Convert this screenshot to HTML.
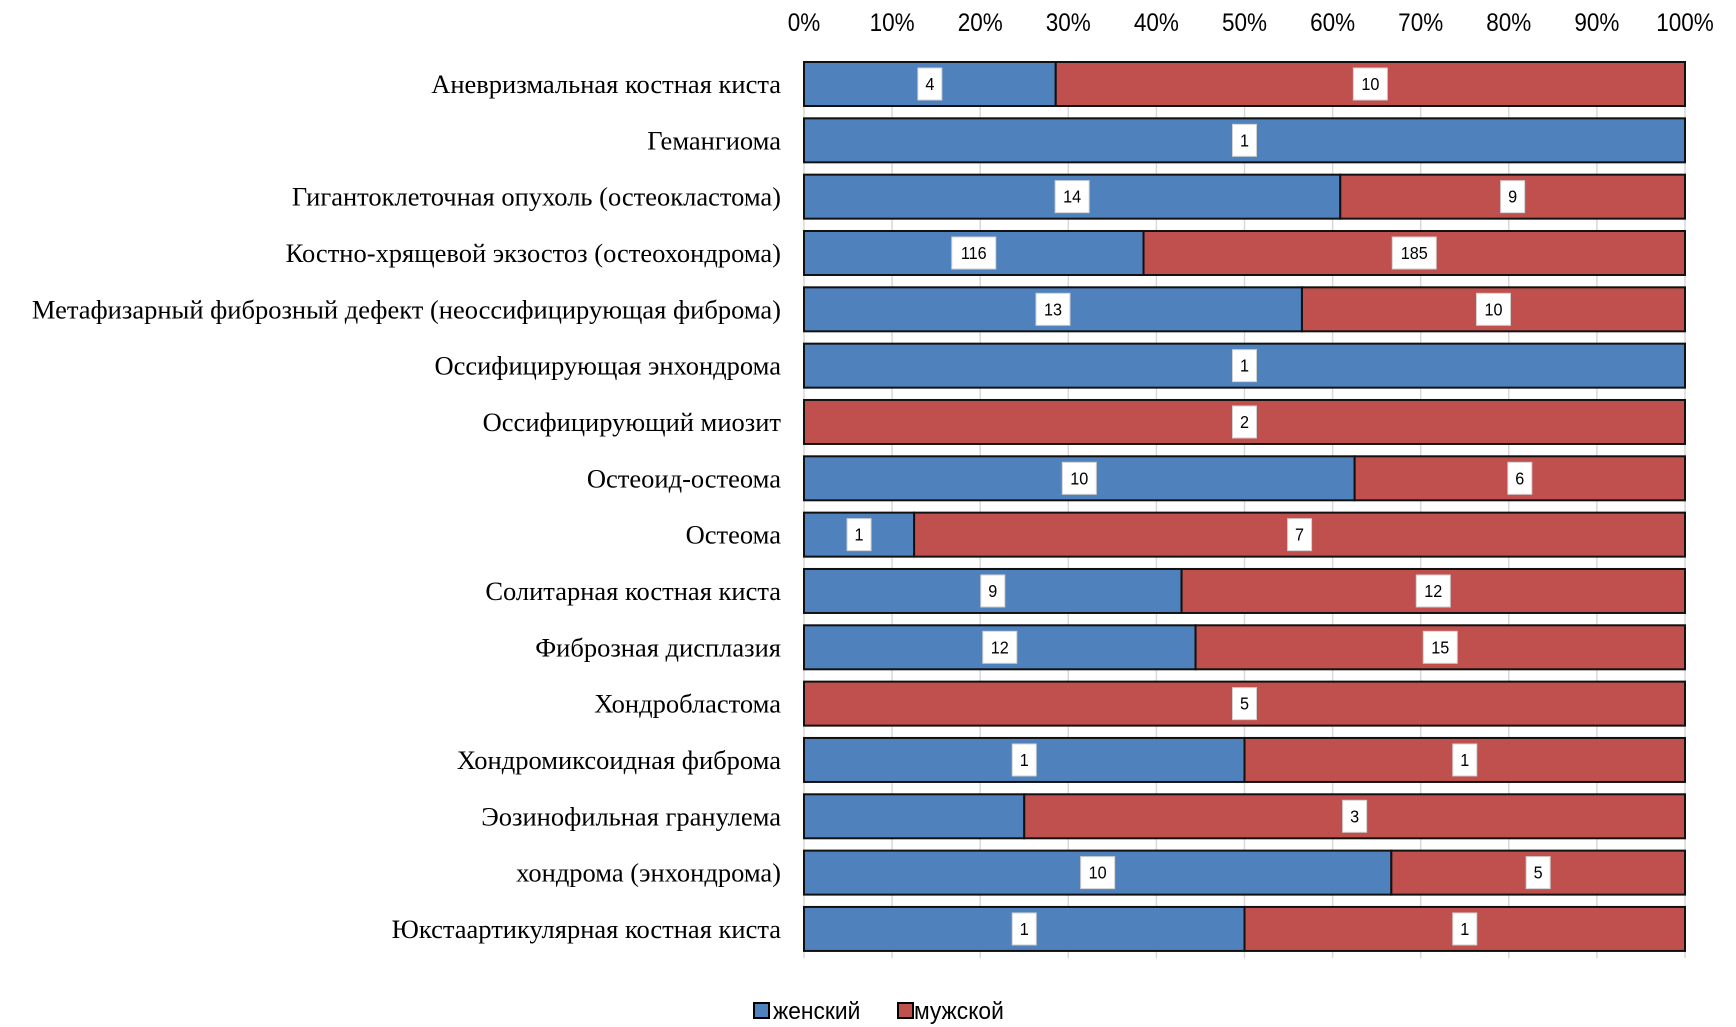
<!DOCTYPE html>
<html><head><meta charset="utf-8"><style>
html,body{margin:0;padding:0;background:#fff;}
svg{display:block;}
</style></head><body>
<svg id="chart" width="1736" height="1027" xmlns="http://www.w3.org/2000/svg">
<g id="grid"></g>
<g id="ticks"></g>
<g id="cats"></g>
<g id="bars"></g>
<g id="labels"></g>
<g>
  <g>
    <rect x="754" y="1003" width="15" height="15" fill="#4F81BD" stroke="#000" stroke-width="2"/>
    <text x="773" y="1019" font-family="Liberation Sans, sans-serif" font-size="24" fill="#000" transform="translate(773 0) scale(0.95 1) translate(-773 0)">женский</text>
  </g>
  <g>
    <rect x="898" y="1003" width="15" height="15" fill="#C0504D" stroke="#000" stroke-width="2"/>
    <text x="914" y="1019" font-family="Liberation Sans, sans-serif" font-size="24" fill="#000" transform="translate(914 0) scale(0.95 1) translate(-914 0)">мужской</text>
  </g>
</g>
</svg>
<script>
const categories = ["Аневризмальная костная киста","Гемангиома","Гигантоклеточная опухоль (остеокластома)","Костно-хрящевой экзостоз (остеохондрома)","Метафизарный фиброзный дефект (неоссифицирующая фиброма)","Оссифицирующая энхондрома","Оссифицирующий миозит","Остеоид-остеома","Остеома","Солитарная костная киста","Фиброзная дисплазия","Хондробластома","Хондромиксоидная фиброма","Эозинофильная гранулема","хондрома (энхондрома)","Юкстаартикулярная костная киста"];
const female = [4,1,14,116,13,1,0,10,1,9,12,0,1,1,10,1];
const male = [10,0,9,185,10,0,2,6,7,12,15,5,1,3,5,1];
const femaleLabelShown = [1,1,1,1,1,1,0,1,1,1,1,0,1,0,1,1];
const tickLabels = ["0%","10%","20%","30%","40%","50%","60%","70%","80%","90%","100%"];
const tickValues = [0,0.1,0.2,0.3,0.4,0.5,0.6,0.7,0.8,0.9,1];

const NS="http://www.w3.org/2000/svg";
const X0=804, X1=1685, TOP=62, PITCH=56.33, BH=44;
const xs=v=>X0+v*(X1-X0);
const ys=i=>TOP+i*PITCH;
function mk(tag,attrs,parent){const e=document.createElementNS(NS,tag);for(const k in attrs)e.setAttribute(k,attrs[k]);parent.appendChild(e);return e;}
const grid=document.getElementById('grid'),ticks=document.getElementById('ticks'),cats=document.getElementById('cats'),bars=document.getElementById('bars'),labels=document.getElementById('labels');
const bottom=ys(categories.length)-5;
tickValues.forEach((v,i)=>{
  const l=mk('line',{x1:xs(v),x2:xs(v),y1:TOP,y2:bottom,stroke:'#d9d9d9','stroke-width':1.5},grid);
  
  
  const t=mk('text',{x:xs(v),y:31,'text-anchor':'middle','font-family':'Liberation Sans, sans-serif','font-size':25,fill:'#000',transform:`translate(${xs(v)} 0) scale(0.9 1) translate(${-xs(v)} 0)`},ticks);
  t.textContent=tickLabels[i];
  
  
});
function addLabel(cx,cy,val){
  const s=String(val);const w=14+s.length*10;
  const r=mk('rect',{x:cx-w/2,y:cy-16,width:w,height:32,fill:'#fff',stroke:'#d0d0d0','stroke-width':1},labels);
  
  
  const t=mk('text',{x:cx,y:cy+6,'text-anchor':'middle','font-family':'Liberation Sans, sans-serif','font-size':18,fill:'#000',transform:`translate(${cx} 0) scale(0.9 1) translate(${-cx} 0)`},labels);
  t.textContent=s;
  
  
}
categories.forEach((c,i)=>{
  const y=ys(i),tot=female[i]+male[i],pf=female[i]/tot;
  const t=mk('text',{x:781,y:y+BH/2+9,'text-anchor':'end','font-family':'Liberation Serif, serif','font-size':26.5,fill:'#000'},cats);
  t.textContent=c;
  
  
  if(female[i]>0){
    const r=mk('rect',{x:xs(0),y:y,width:xs(pf)-xs(0),height:BH,fill:'#4F81BD',stroke:'#111','stroke-width':2},bars);
    
    
  }
  if(male[i]>0){
    const r=mk('rect',{x:xs(pf),y:y,width:xs(1)-xs(pf),height:BH,fill:'#C0504D',stroke:'#111','stroke-width':2},bars);
    
    
  }
  if(female[i]>0&&femaleLabelShown[i]) addLabel((xs(0)+xs(pf))/2,y+BH/2,female[i]);
  if(male[i]>0) addLabel((xs(pf)+xs(1))/2,y+BH/2,male[i]);
});
</script>
</body></html>
